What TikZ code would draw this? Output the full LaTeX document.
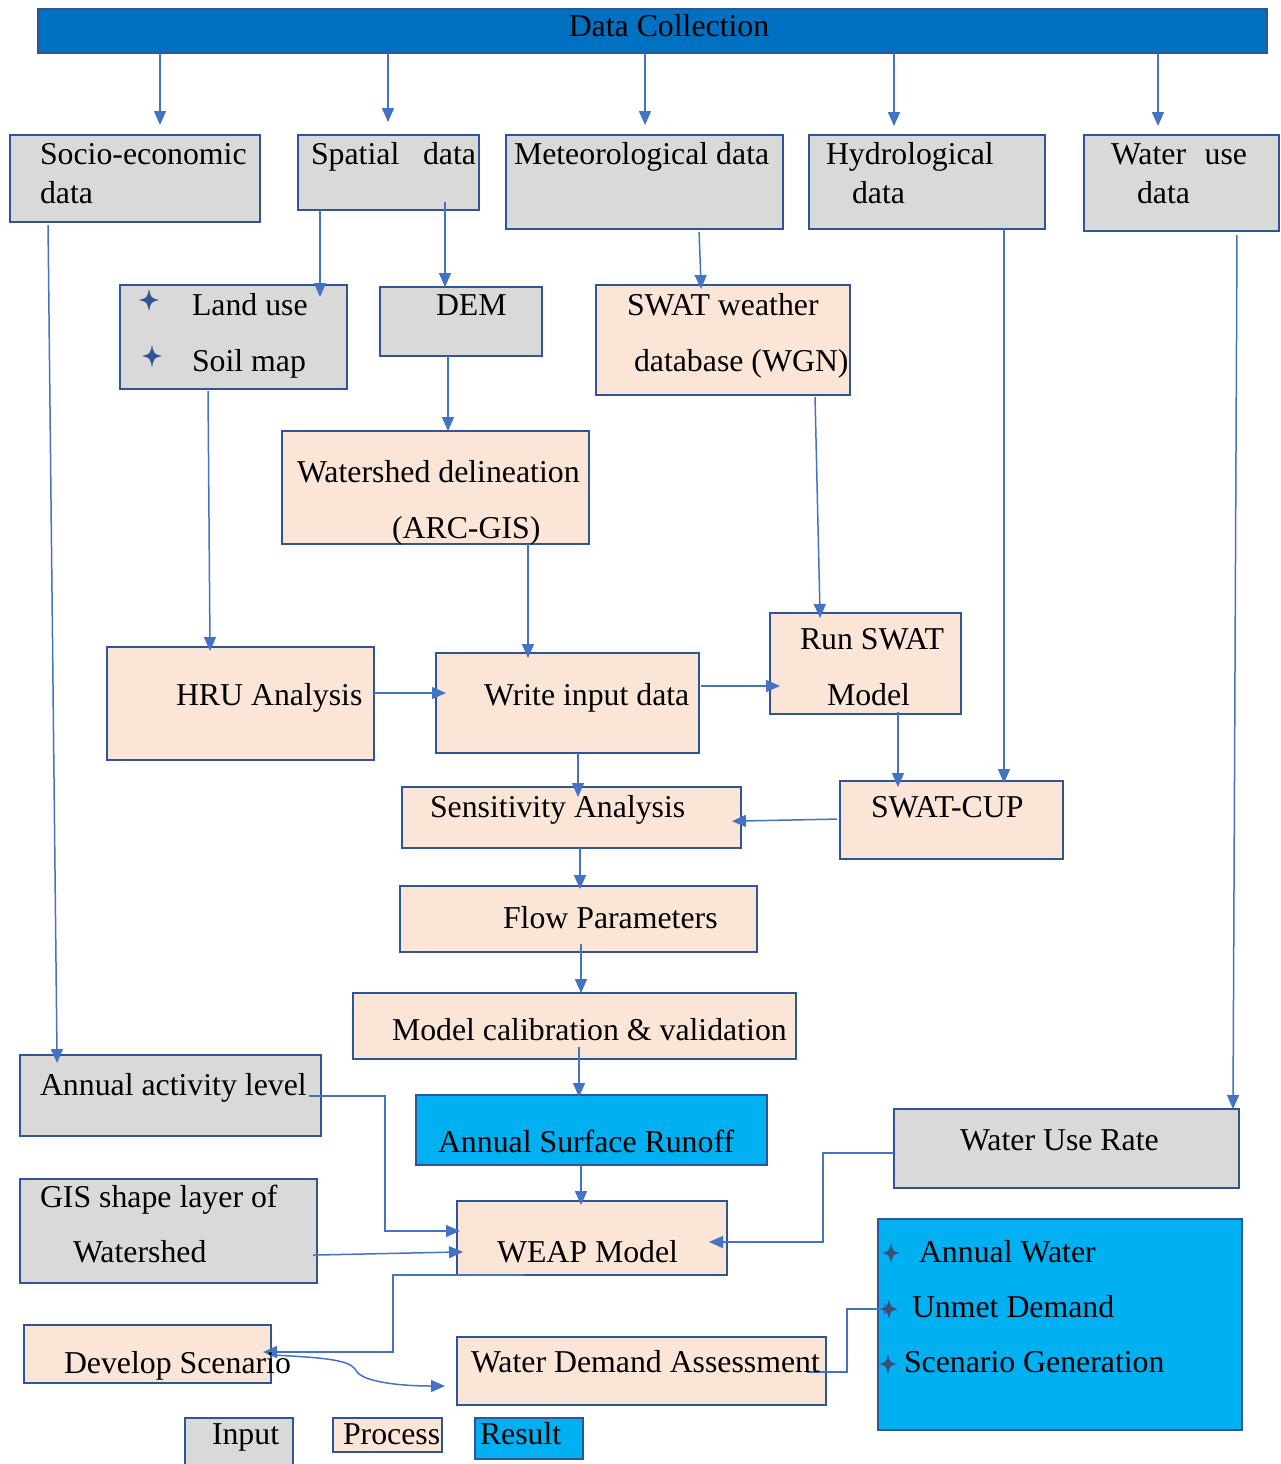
\documentclass[tikz,border=0pt]{standalone}
\usepackage{fontspec}
\setmainfont{Liberation Serif}
\usetikzlibrary{arrows.meta}
\definecolor{bord}{HTML}{2F5597}
\definecolor{inp}{HTML}{D9D9D9}
\definecolor{proc}{HTML}{FBE5D6}
\definecolor{resc}{HTML}{00B0F0}
\definecolor{hdr}{HTML}{0070C0}
\definecolor{arrc}{HTML}{4472C4}
\definecolor{stara}{HTML}{2F5597}
\definecolor{starb}{HTML}{3B4E78}
\newcommand\mkbox[6]{\node[#2, minimum width={(#5-#3)*0.5pt}, minimum height={(#6-#4)*0.5pt}] (#1) at ({(#3+#5)/2},{(#4+#6)/2}) {};}
\newcommand\txt[4]{\node[lbl] (#1) at (#2,#3) {#4};}
% four-pointed star: name, position, colour, half-size (px)
\newcommand\starat[4]{\coordinate (#1) at (#2);
 \fill[#3, shift={(#1)}, scale=#4/10] (0,-11) .. controls (2,-2) .. (10,0) .. controls (2,2) .. (0,11) .. controls (-2,2) .. (-10,0) .. controls (-2,-2) .. (0,-11) -- cycle;}
\begin{document}
\begin{tikzpicture}[x=0.5pt,y=-0.5pt,
 boxbase/.style={draw=bord, line width=1.2pt, inner sep=0pt, outer sep=0pt, rectangle},
 inbox/.style={boxbase, fill=inp},
 prbox/.style={boxbase, fill=proc},
 rsbox/.style={boxbase, fill=resc},
 hdbox/.style={boxbase, fill=hdr},
 lbl/.style={anchor=base west, inner sep=0pt, outer sep=0pt, font=\fontsize{15.9pt}{19pt}\selectfont, text=black},
 arr/.style={draw=arrc, line width=0.75pt, -{Triangle[width=6pt,length=7pt]}}
]
\path[use as bounding box] (0,0) rectangle (1281,1464);
\clip (0,0) rectangle (1281,1464);

% boxes
\mkbox{dc}{hdbox}{38}{9}{1267}{53}
\mkbox{soc}{inbox}{10}{135}{260}{222}
\mkbox{spa}{inbox}{298}{135}{479}{210}
\mkbox{met}{inbox}{506}{135}{783}{229}
\mkbox{hyd}{inbox}{809}{135}{1045}{229}
\mkbox{wu}{inbox}{1084}{135}{1279}{231}
\mkbox{lu}{inbox}{120}{285}{347}{389}
\mkbox{dem}{inbox}{380}{287}{542}{356}
\mkbox{wgn}{prbox}{596}{285}{850}{395}
\mkbox{ws}{prbox}{282}{431}{589}{544}
\mkbox{run}{prbox}{770}{613}{961}{714}
\mkbox{hru}{prbox}{107}{647}{374}{760}
\mkbox{wid}{prbox}{436}{653}{699}{753}
\mkbox{sen}{prbox}{402}{787}{741}{848}
\mkbox{cup}{prbox}{840}{781}{1063}{859}
\mkbox{flow}{prbox}{400}{886}{757}{952}
\mkbox{mcv}{prbox}{353}{993}{796}{1059}
\mkbox{act}{inbox}{20}{1055}{321}{1136}
\mkbox{asr}{rsbox}{416}{1095}{767}{1165}
\mkbox{wur}{inbox}{894}{1109}{1239}{1188}
\mkbox{gis}{inbox}{20}{1179}{317}{1283}
\mkbox{weap}{prbox}{457}{1201}{727}{1275}
\mkbox{res}{rsbox}{878}{1219}{1242}{1430}
\mkbox{dev}{prbox}{24}{1325}{271}{1383}
\mkbox{wda}{prbox}{457}{1337}{826}{1405}
\mkbox{lin}{inbox}{185}{1418}{293}{1475}
\mkbox{lpr}{prbox}{333}{1418}{442}{1452}
\mkbox{lrs}{rsbox}{475}{1418}{583}{1459}

% connectors
\draw[arr, shorten >=5pt] (dc.south -| 160,0) -- (soc.north -| 160,0);
\draw[arr, shorten >=6.5pt] (dc.south -| 388,0) -- (spa.north -| 388,0);
\draw[arr, shorten >=5pt] (dc.south -| 645,0) -- (met.north -| 645,0);
\draw[arr, shorten >=4.5pt] (dc.south -| 894,0) -- (hyd.north -| 894,0);
\draw[arr, shorten >=4.5pt] (dc.south -| 1158,0) -- (wu.north -| 1158,0);
\draw[arr, shorten <=1.5pt, shorten >=-4pt] (soc.south -| 48,0) -- (act.north -| 57,0);
\draw[arr, shorten >=-6pt] (spa.south -| 320,0) -- (lu.north -| 320,0);
\draw[arr, shorten <=-4pt] (spa.south -| 445,0) -- (dem.north -| 445,0);
\draw[arr] (dem.south -| 448,0) -- (ws.north -| 448,0);
\draw[arr, shorten <=1.5pt, shorten >=-2pt] (met.south -| 699,0) -- (wgn.north -| 701,0);
\draw[arr, shorten <=1pt, shorten >=-2.5pt] (wgn.south -| 815,0) -- (run.north -| 820,0);
\draw[arr, shorten <=1pt, shorten >=-2pt] (lu.south -| 208,0) -- (hru.north -| 210,0);
\draw[arr, shorten >=-2.5pt] (ws.south -| 528,0) -- (wid.north -| 528,0);
\draw[arr, shorten >=-5pt] (hru.east |- 0,693) -- (wid.west |- 0,693);
\draw[arr, shorten <=1pt, shorten >=-5pt] (wid.east |- 0,686) -- (run.west |- 0,686);
\draw[arr, shorten <=-1pt, shorten >=-3pt] (run.south -| 898,0) -- (cup.north -| 898,0);
\draw[arr, shorten >=-1pt] (hyd.south -| 1004,0) -- (cup.north -| 1004,0);
\draw[arr, shorten <=2pt] (wu.south -| 1237,0) -- (wur.north -| 1233,0);
\draw[arr, shorten <=1.5pt, shorten >=-4.5pt] (cup.west |- 0,819) -- (sen.east |- 0,821);
\draw[arr, shorten >=-5pt] (wid.south -| 578,0) -- (sen.north -| 578,0);
\draw[arr, shorten >=-1.5pt] (sen.south -| 580,0) -- (flow.north -| 580,0);
\draw[arr, shorten <=-4pt] (flow.south -| 581,0) -- (mcv.north -| 581,0);
\draw[arr, shorten <=-6pt, shorten >=-1pt] (mcv.south -| 579,0) -- (asr.north -| 579,0);
\draw[arr, shorten >=-2pt] (asr.south -| 581,0) -- (weap.north -| 581,0);
\draw[arr, shorten <=-6pt, shorten >=-1.5pt] (act.east |- 0,1096) -- (385,1096) |- (weap.west |- 0,1231);
\draw[arr, shorten <=-2pt, shorten >=-3pt] (gis.east |- 0,1255) -- (weap.west |- 0,1252);
\draw[arr, shorten >=-9pt] (wur.west |- 0,1153) -| (823,1242) -- (weap.east |- 0,1242);
\draw[arr, shorten >=-4pt] (weap.south -| 524,0) -| (393,1352) -- (dev.east |- 0,1352);
\draw[arr, shorten >=6pt] (dev.east |- 0,1355) .. controls (340,1358) and (352,1362) .. (357,1372) .. controls (365,1382) and (400,1386) .. (wda.west |- 0,1386);
\draw[arr, line width=1.2pt, shorten <=-9.5pt, shorten >=-9.5pt] (wda.east |- 0,1372) -| (847,1309) -- (res.west |- 0,1309);

% star markers
\starat{s1}{149,300}{stara}{10}
\starat{s2}{152,356}{stara}{10}
\starat{s3}{891,1253}{starb}{9}
\starat{s4}{889,1309}{starb}{9}
\starat{s5}{888,1364}{starb}{9}

% texts
\node[lbl, anchor=base] (tdc) at (669,36) {Data Collection};
\txt{t1}{40}{164}{Socio-economic}
\txt{t2}{40}{203}{data}
\txt{t3}{311}{164}{Spatial}
\node[lbl, anchor=base east] (t4) at (476,164) {data};
\txt{t5}{514}{164}{Meteorological data}
\txt{t6}{826}{164}{Hydrological}
\txt{t7}{852}{203}{data}
\txt{t8}{1111}{164}{Water}
\node[lbl, anchor=base east] (t9) at (1247,164) {use};
\txt{t10}{1137}{203}{data}
\txt{t11}{192}{315}{Land use}
\txt{t12}{192}{371}{Soil map}
\txt{t13}{436}{315}{DEM}
\txt{t14}{627}{315}{SWAT weather}
\txt{t15}{634}{371}{database (WGN)}
\txt{t16}{297}{482}{Watershed delineation}
\txt{t17}{392}{538}{(ARC-GIS)}
\txt{t18}{800}{649}{Run SWAT}
\txt{t19}{827}{705}{Model}
\txt{t20}{176}{705}{HRU Analysis}
\txt{t21}{484}{705}{Write input data}
\txt{t22}{430}{817}{Sensitivity Analysis}
\txt{t23}{871}{817}{SWAT-CUP}
\txt{t24}{503}{928}{Flow Parameters}
\txt{t25}{392}{1040}{Model calibration \& validation}
\txt{t26}{40}{1095}{Annual activity level}
\txt{t27}{438}{1152}{Annual Surface Runoff}
\txt{t28}{960}{1150}{Water Use Rate}
\txt{t29}{40}{1207}{GIS shape layer of}
\txt{t30}{73}{1262}{Watershed}
\txt{t31}{497}{1262}{WEAP Model}
\txt{t32}{919}{1262}{Annual Water}
\txt{t33}{912}{1317}{Unmet Demand}
\txt{t34}{904}{1372}{Scenario Generation}
\txt{t35}{64}{1373}{Develop Scenario}
\txt{t36}{471}{1372}{Water Demand Assessment}
\txt{t37}{212}{1444}{Input}
\txt{t38}{343}{1444}{Process}
\txt{t39}{480}{1444}{Result}
\end{tikzpicture}
\end{document}
